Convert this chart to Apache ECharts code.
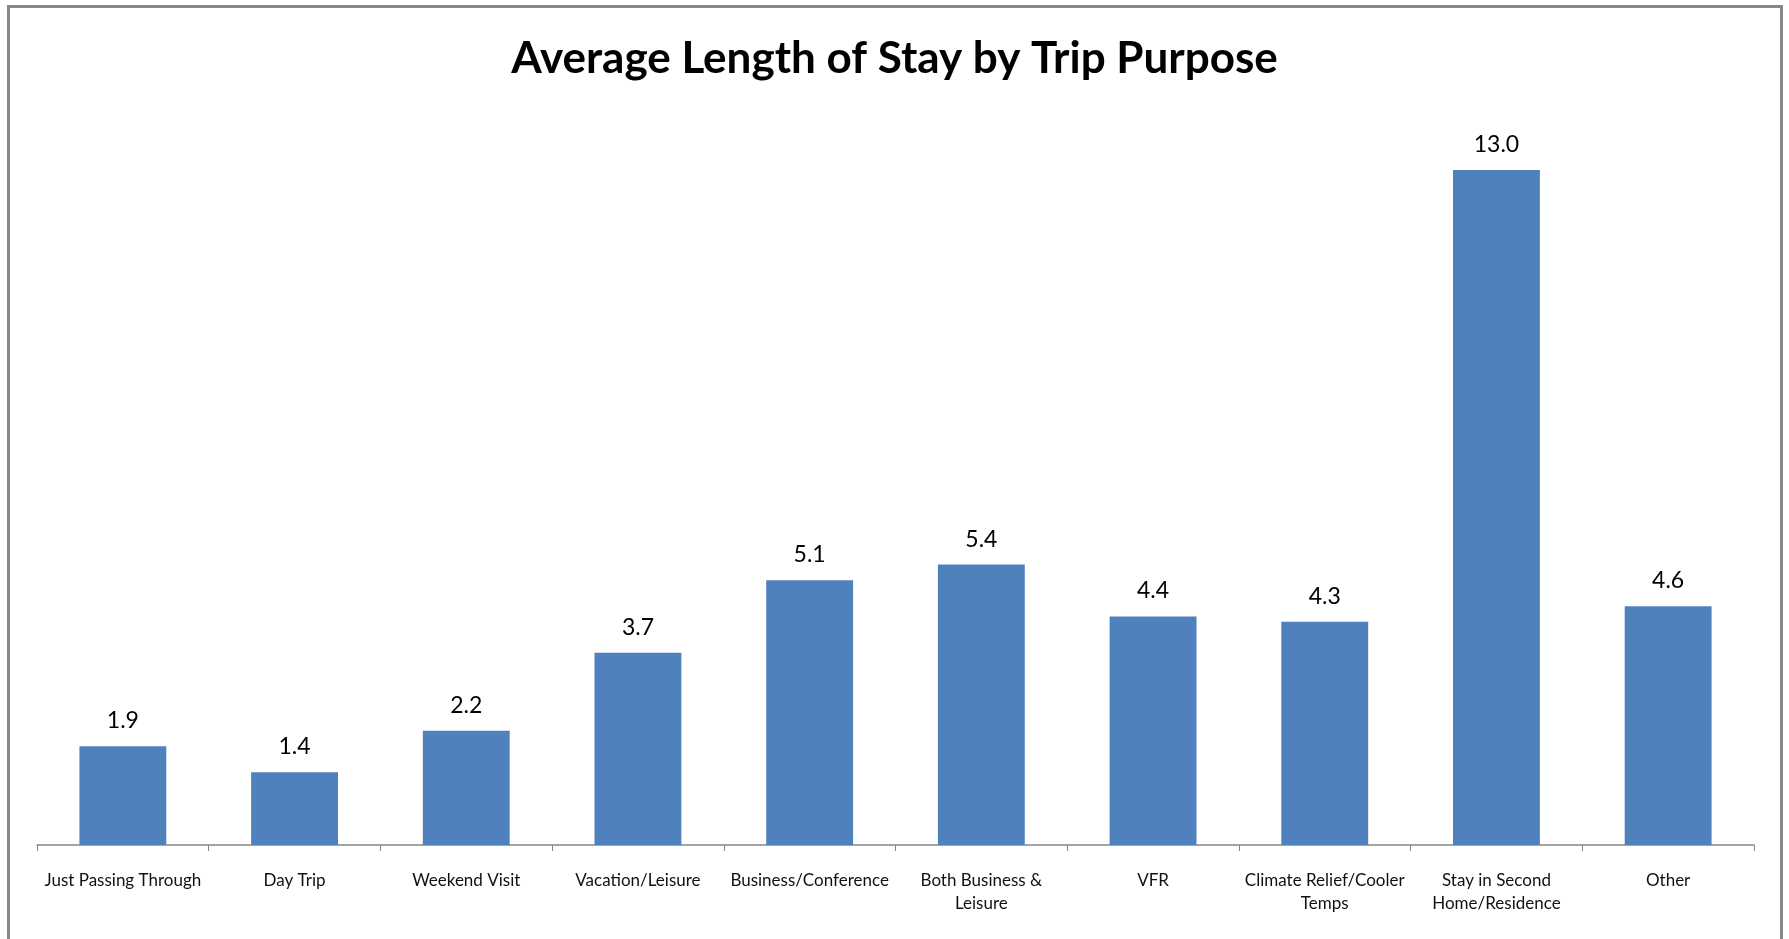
<!DOCTYPE html>
<html>
<head>
<meta charset="utf-8">
<script src="https://cdn.jsdelivr.net/npm/echarts@6/dist/echarts.min.js"></script>
<style>
html,body{margin:0;padding:0;background:#fff;}
#chart{width:1789px;height:939px;}
</style>
</head>
<body>
<div id="chart"></div>
<script>
const chartTitle = 'Average Length of Stay by Trip Purpose';
const categories = [
  'Just Passing Through',
  'Day Trip',
  'Weekend Visit',
  'Vacation/Leisure',
  'Business/Conference',
  'Both Business &\nLeisure',
  'VFR',
  'Climate Relief/Cooler\nTemps',
  'Stay in Second\nHome/Residence',
  'Other'
];
const avgStay = [1.9, 1.4, 2.2, 3.7, 5.1, 5.4, 4.4, 4.3, 13.0, 4.6];

const chart = echarts.init(document.getElementById('chart'), null, {renderer: 'canvas'});
chart.setOption({
  backgroundColor: '#ffffff',
  animation: false,
  title: {
    text: chartTitle,
    left: 'center',
    top: 32,
    textStyle: {fontFamily: 'Lato', fontWeight: 'bold', fontSize: 44, color: '#000'}
  },
  graphic: [{
    type: 'rect',
    shape: {x: 8.5, y: 6.5, width: 1773, height: 960},
    style: {fill: 'none', stroke: '#878787', lineWidth: 3},
    silent: true
  }],
  grid: {left: 37, right: 35, top: 118, bottom: 94, containLabel: false},
  xAxis: {
    type: 'category',
    data: categories,
    axisLine: {show: true, lineStyle: {color: '#868686', width: 1.5}},
    axisTick: {show: true, length: 6, lineStyle: {color: '#868686'}},
    axisLabel: {
      interval: 0,
      margin: 24,
      color: '#111',
      fontFamily: 'Lato',
      fontSize: 17,
      lineHeight: 23
    }
  },
  yAxis: {
    type: 'value',
    min: 0,
    max: 14,
    show: false,
    splitLine: {show: false}
  },
  series: [{
    type: 'bar',
    data: avgStay,
    barWidth: '50.6%',
    itemStyle: {color: '#4F81BD'},
    label: {
      show: true,
      position: 'top',
      distance: 14,
      formatter: p => p.value.toFixed(1),
      fontFamily: 'Lato',
      fontSize: 23,
      color: '#000'
    }
  }]
});
</script>
</body>
</html>
